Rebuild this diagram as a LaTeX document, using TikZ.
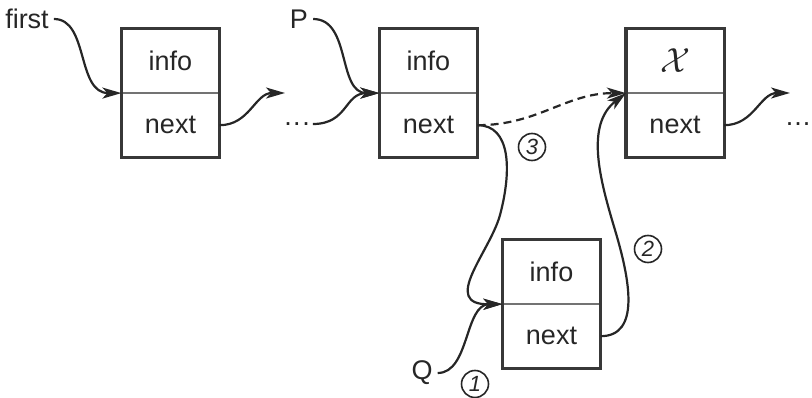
\documentclass[tikz,border=0pt]{standalone}
\usepackage{fontspec}
\setmainfont{Liberation Sans}
\usetikzlibrary{positioning,arrows.meta}
\begin{document}
\begin{tikzpicture}[x=1pt,y=-1pt,
    every node/.style={font=\fontsize{27}{30}\selectfont,text=black!85},
    cell/.style={draw=black!55,line width=1.2pt,minimum width=97pt,minimum height=63pt,inner sep=0pt},
    frame/.style={draw=black!78,line width=3.2pt},
    link/.style={line width=2.2pt,draw=black!85,-{Stealth[length=19pt,width=11pt,inset=5pt]}},
    num/.style={circle,draw=black!85,line width=1.6pt,minimum size=27pt,inner sep=0pt,font=\fontsize{22}{22}\selectfont\itshape}]
            
            \useasboundingbox (0,0) rectangle (812,398);
            % cac nut danh sach
            \foreach \k/\x/\y/\t in {1/170.5/61/info,2/428.5/61/info,3/675/61/{\scalebox{1.4}{$\mathcal{X}$}},4/551.5/272/info}{
                \node[cell] (info\k) at (\x,\y) {\t};
                \node[cell,below=0pt of info\k] (next\k) {next};
                \draw[frame] (info\k.north west) rectangle (next\k.south east);
            }
            \node[inner sep=5pt] (first) at (27,19) {first};
            \node[inner sep=5pt] (p) at (299,19) {P};
            \node[inner sep=5pt] (q) at (422,373) {Q};
            \node[inner sep=3pt] (dots1) at (297,124) {.\kern1.5pt.\kern1.5pt.};
            \node[inner sep=0pt] (dots2) at (798,124) {.\kern1pt.\kern1pt.};
            \coordinate (end1) at (285,93);
            \coordinate (end3) at (790,93);
            \coordinate (bend3) at (500,215);
            \coordinate (bend2) at (615,230);
            \draw[link] (first.east) .. controls +(35,0) and +(-45,0) .. (info1.south west);
            \draw[link] (next1.east) .. controls +(30,0) and +(-30,0) .. (end1);
            \draw[link] (p.east) .. controls +(38,0) and +(-42,0) .. (info2.south west);
            \draw[link] (dots1.east) .. controls +(35,0) and +(-35,0) .. (info2.south west);
            \draw[link,dash pattern=on 8pt off 5pt] (next2.east) .. controls +(60,0) and +(-60,0) .. (info3.south west);
            \draw[link] (next3.east) .. controls +(30,0) and +(-30,0) .. (end3);
            % chen Q vao sau P
            \draw[link] (q.east) .. controls +(32,0) and +(-38,0) .. (info4.south west);
            \draw[link] (next4.east) .. controls +(40,0) and +(15,50) .. (bend2) .. controls +(-15,-50) and +(-41,32) .. (info3.south west);
            \draw[link] (next2.east) .. controls +(33,0) and +(12,-45) .. (bend3) .. controls +(-10,37) and +(-63,1) .. (info4.south west);
            \node[num] (n1) at (475,384) {1};
            \node[num] (n2) at (648,249) {2};
            \node[num] (n3) at (532,147) {3};
        \end{tikzpicture}
\end{document}
